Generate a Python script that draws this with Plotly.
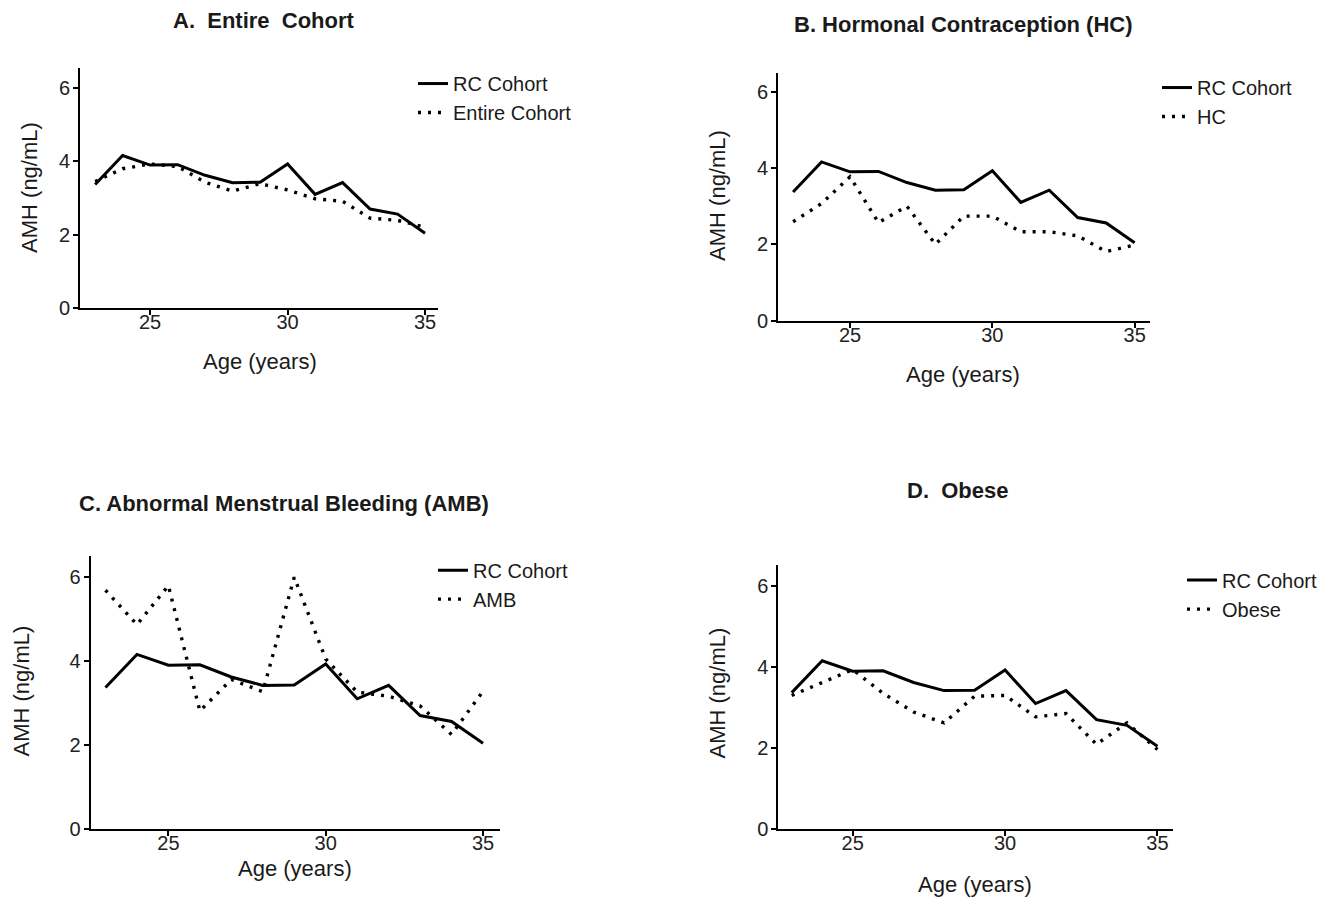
import plotly.graph_objects as go

ages = [23, 24, 25, 26, 27, 28, 29, 30, 31, 32, 33, 34, 35]
rc_cohort = [3.37, 4.16, 3.90, 3.91, 3.62, 3.42, 3.43, 3.93, 3.10, 3.42, 2.70, 2.56, 2.04]
entire_cohort = [3.45, 3.80, 3.93, 3.86, 3.43, 3.19, 3.39, 3.22, 2.98, 2.91, 2.45, 2.39, 2.20]
hc = [2.59, 3.07, 3.77, 2.57, 3.00, 2.00, 2.74, 2.74, 2.33, 2.33, 2.22, 1.81, 1.98]
amb = [5.69, 4.87, 5.80, 2.81, 3.56, 3.27, 6.00, 4.05, 3.26, 3.16, 2.93, 2.25, 3.28]
obese = [3.30, 3.61, 3.94, 3.35, 2.89, 2.62, 3.28, 3.30, 2.77, 2.85, 2.09, 2.62, 1.96]

panel_titles = ["A.  Entire  Cohort", "B. Hormonal Contraception (HC)",
                "C. Abnormal Menstrual Bleeding (AMB)", "D.  Obese"]
group_names = ["Entire Cohort", "HC", "AMB", "Obese"]
group_values = [entire_cohort, hc, amb, obese]
x_ticks = [25, 30, 35]
y_ticks = [0, 2, 4, 6]

OFF = 8  # page body margin
YS = 0.9885  # observed vertical scale of the rendered page
W, H = 1334 - OFF, 899 - OFF
FONT = "Arial, Liberation Sans, sans-serif"
TXT = "#1a1a1a"


def px(x):
    return (x - OFF) / W


def py(y):
    return 1 - (y / YS - OFF) / H


# panel geometry in reference pixels
panels = [
    dict(l=80, r=438, b=308, t=68, xr=[22.45, 35.47], yr=[0, 6.55],
         title=(264, 20), ylab=(30, 188), xlab=(260, 362), leg=(413, 64)),
    dict(l=778, r=1150, b=320.7, t=72.7, xr=[22.47, 35.54], yr=[0, 6.5],
         title=(963, 24), ylab=(718, 196), xlab=(963, 375), leg=(1157, 68)),
    dict(l=90.7, r=500, b=829.3, t=556.7, xr=[22.53, 35.54], yr=[0, 6.5],
         title=(284, 504), ylab=(22, 692), xlab=(295, 869), leg=(433, 551)),
    dict(l=778.3, r=1173, b=829.3, t=565, xr=[22.56, 35.51], yr=[0, 6.54],
         title=(957, 491), ylab=(718, 694), xlab=(975, 885), leg=(1182, 561)),
]

fig = go.Figure()
annotations = []
for i, p in enumerate(panels):
    n = "" if i == 0 else str(i + 1)
    xa, ya = "x" + n, "y" + n
    leg = "legend" + n
    fig.add_trace(go.Scatter(x=ages, y=rc_cohort, mode="lines", name="RC Cohort",
                             line=dict(color="black", width=3), xaxis=xa, yaxis=ya,
                             legend=leg))
    fig.add_trace(go.Scatter(x=ages, y=group_values[i], mode="lines", name=group_names[i],
                             line=dict(color="black", width=3.4, dash="3px,7px"),
                             xaxis=xa, yaxis=ya, legend=leg))
    axcommon = dict(showline=True, linecolor="black", linewidth=2, showgrid=False,
                    zeroline=False, ticks="outside", ticklen=5, tickwidth=1.5,
                    tickcolor="black", tickfont=dict(family=FONT, size=20, color="#222222"))
    fig.update_layout(**{
        "xaxis" + n: dict(domain=[px(p["l"]), px(p["r"])], range=p["xr"],
                          tickvals=x_ticks, anchor=ya, ticklabelstandoff=-10, **axcommon),
        "yaxis" + n: dict(domain=[py(p["b"]), py(p["t"])], range=p["yr"],
                          tickvals=y_ticks, anchor=xa, ticklabelstandoff=-1, **axcommon),
        leg: dict(x=px(p["leg"][0]), y=py(p["leg"][1]), xanchor="left", yanchor="top",
                  font=dict(family=FONT, size=20, color=TXT), itemwidth=30,
                  bgcolor="rgba(0,0,0,0)", tracegroupgap=0),
    })
    annotations.append(dict(x=px(p["title"][0]), y=py(p["title"][1]), xref="paper",
                            yref="paper", text="<b>" + panel_titles[i] + "</b>",
                            xanchor="center", yanchor="middle",
                            showarrow=False, font=dict(family=FONT, size=22, color=TXT)))
    annotations.append(dict(x=px(p["ylab"][0]), y=py(p["ylab"][1]), xref="paper",
                            yref="paper", text="AMH (ng/mL)", textangle=-90,
                            xanchor="center", yanchor="middle",
                            showarrow=False, font=dict(family=FONT, size=22, color=TXT)))
    annotations.append(dict(x=px(p["xlab"][0]), y=py(p["xlab"][1]), xref="paper",
                            yref="paper", text="Age (years)",
                            xanchor="center", yanchor="middle",
                            showarrow=False, font=dict(family=FONT, size=22, color=TXT)))

fig.update_layout(width=W, height=H, margin=dict(l=0, r=0, t=0, b=0),
                  paper_bgcolor="white", plot_bgcolor="white", showlegend=True,
                  annotations=annotations)
fig.write_html("out.html")
